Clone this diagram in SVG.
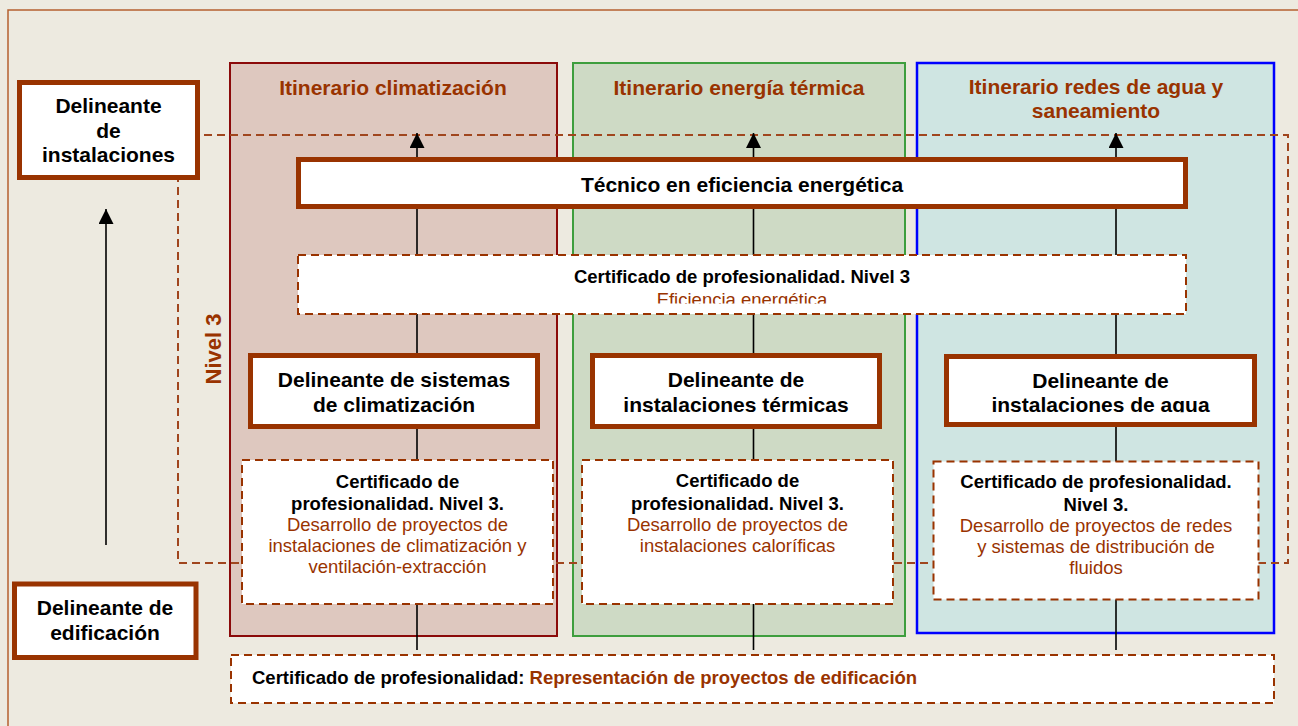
<svg xmlns="http://www.w3.org/2000/svg" width="1298" height="726" viewBox="0 0 1298 726">
<style>
.h{font-family:"Liberation Sans",Arial,sans-serif;font-weight:bold;font-size:21px;fill:#000;text-anchor:middle}
.t{font-family:"Liberation Sans",Arial,sans-serif;font-weight:bold;font-size:21px;fill:#993300;text-anchor:middle}
.cb{font-family:"Liberation Sans",Arial,sans-serif;font-weight:bold;font-size:18.5px;fill:#000;text-anchor:middle}
.cr{font-family:"Liberation Sans",Arial,sans-serif;font-size:18.5px;fill:#993300;text-anchor:middle}
.node{fill:#fff;stroke:#993300;stroke-width:5}
.cert{fill:#fff;stroke:#993300;stroke-width:2;stroke-dasharray:8 5}
.conn{stroke:#000;stroke-width:1.6;fill:none}
</style>
<defs>
<marker id="ah" markerWidth="15" markerHeight="15" refX="15" refY="7.5" orient="auto" markerUnits="userSpaceOnUse" viewBox="0 0 15 15">
<path d="M0,0 L15,7.5 L0,15 Z" fill="#000"/>
</marker>
<clipPath id="clipEf"><rect x="298" y="255" width="888" height="48.5"/></clipPath>
<clipPath id="clipAg"><rect x="944" y="354" width="313" height="58.3"/></clipPath>
</defs>
<rect x="0" y="0" width="1298" height="726" fill="#EDEAE0"/>
<rect x="8" y="10" width="1300" height="730" fill="#EDEAE0" stroke="#B5602F" stroke-width="1.5"/>

<g id="panel-climatizacion">
<rect x="230" y="63" width="327" height="573" fill="#DEC8BF" stroke="#8B0A0A" stroke-width="2"/>
<text class="t" x="393" y="95">Itinerario climatización</text>
</g>
<g id="panel-energia">
<rect x="573" y="63" width="332" height="573" fill="#CEDAC5" stroke="#3E9E3E" stroke-width="2"/>
<text class="t" x="739" y="95">Itinerario energía térmica</text>
</g>
<g id="panel-agua">
<rect x="917" y="63" width="357" height="570" fill="#CFE5E2" stroke="#0000FF" stroke-width="2.5"/>
<text class="t" x="1096" y="94">Itinerario redes de agua y</text>
<text class="t" x="1096" y="118">saneamiento</text>
</g>

<g id="nivel3">
<path d="M178,135 H1288 V563 H178 Z" fill="none" stroke="#A0461E" stroke-width="2" stroke-dasharray="8 5"/>
<text class="t" x="221" y="349" transform="rotate(-90 221 349)" style="font-size:22px">Nivel 3</text>
</g>

<g id="connectors">
<line class="conn" x1="106" y1="545" x2="106" y2="209" marker-end="url(#ah)"/>
<line class="conn" x1="417" y1="650" x2="417" y2="133" marker-end="url(#ah)"/>
<line class="conn" x1="753.5" y1="650" x2="753.5" y2="133" marker-end="url(#ah)"/>
<line class="conn" x1="1116" y1="650" x2="1116" y2="133" marker-end="url(#ah)"/>
</g>

<g id="delineante-instalaciones">
<rect class="node" x="19.5" y="82.5" width="178" height="95"/>
<text class="h" x="108.5" y="113">Delineante</text>
<text class="h" x="108.5" y="137.5">de</text>
<text class="h" x="108.5" y="162">instalaciones</text>
</g>
<g id="delineante-edificacion">
<rect class="node" x="14.5" y="584" width="181.5" height="73.5"/>
<text class="h" x="105" y="615">Delineante de</text>
<text class="h" x="105" y="639.5">edificación</text>
</g>
<g id="tecnico-eficiencia">
<rect class="node" x="298.5" y="159.5" width="887" height="47"/>
<text class="h" x="742" y="192">Técnico en eficiencia energética</text>
</g>
<g id="cert-eficiencia">
<rect class="cert" x="298" y="255" width="888" height="59"/>
<text class="cb" x="742" y="283">Certificado de profesionalidad. Nivel 3</text>
<text class="cr" x="742" y="306" clip-path="url(#clipEf)">Eficiencia energética</text>
</g>
<g id="delineante-climatizacion">
<rect class="node" x="250.5" y="355.5" width="287" height="71"/>
<text class="h" x="394" y="387">Delineante de sistemas</text>
<text class="h" x="394" y="412">de climatización</text>
</g>
<g id="delineante-termicas">
<rect class="node" x="592.5" y="355.5" width="287" height="71"/>
<text class="h" x="736" y="387">Delineante de</text>
<text class="h" x="736" y="412">instalaciones térmicas</text>
</g>
<g id="delineante-agua">
<rect class="node" x="946.5" y="356.5" width="308" height="68"/>
<text class="h" x="1100.5" y="387.5">Delineante de</text>
<text class="h" x="1100.5" y="411.5" clip-path="url(#clipAg)">instalaciones de agua</text>
</g>
<g id="cert-climatizacion">
<rect class="cert" x="242" y="460" width="311" height="144"/>
<text class="cb" x="397.5" y="488">Certificado de</text>
<text class="cb" x="397.5" y="510">profesionalidad. Nivel 3.</text>
<text class="cr" x="397.5" y="530.5">Desarrollo de proyectos de</text>
<text class="cr" x="397.5" y="551.5">instalaciones de climatización y</text>
<text class="cr" x="397.5" y="572.5">ventilación-extracción</text>
</g>
<g id="cert-termicas">
<rect class="cert" x="582" y="460" width="311" height="144"/>
<text class="cb" x="737.5" y="487">Certificado de</text>
<text class="cb" x="737.5" y="509.5">profesionalidad. Nivel 3.</text>
<text class="cr" x="737.5" y="531">Desarrollo de proyectos de</text>
<text class="cr" x="737.5" y="551.5">instalaciones caloríficas</text>
</g>
<g id="cert-agua">
<rect class="cert" x="933.5" y="461.5" width="325" height="138"/>
<text class="cb" x="1096" y="488">Certificado de profesionalidad.</text>
<text class="cb" x="1096" y="510.5">Nivel 3.</text>
<text class="cr" x="1096" y="531.5">Desarrollo de proyectos de redes</text>
<text class="cr" x="1096" y="553">y sistemas de distribución de</text>
<text class="cr" x="1096" y="574">fluidos</text>
</g>
<g id="cert-edificacion">
<rect class="cert" x="231" y="655" width="1043" height="48"/>
<text class="cb" x="252" y="684" style="text-anchor:start">Certificado de profesionalidad: <tspan style="fill:#993300">Representación de proyectos de edificación</tspan></text>
</g>
</svg>
